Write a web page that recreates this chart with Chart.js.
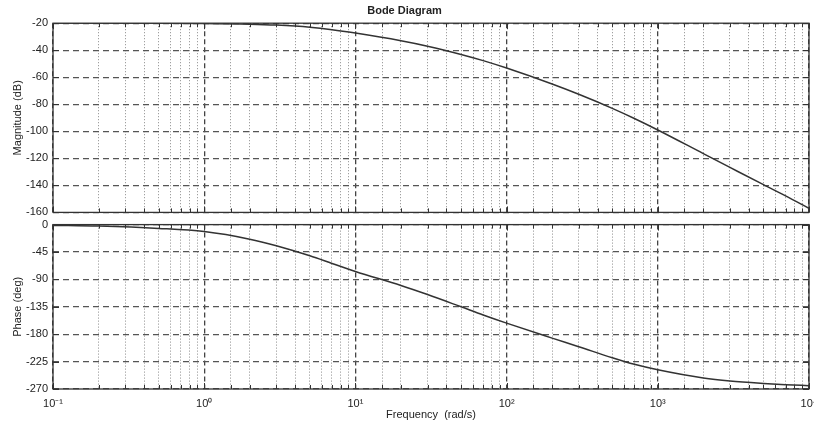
<!DOCTYPE html>
<html>
<head>
<meta charset="utf-8">
<script src="https://cdn.jsdelivr.net/npm/chart.js@4"></script>
<style>
  html, body { margin: 0; padding: 0; background: #fff; overflow: hidden; }
  body { width: 814px; height: 428px; position: relative; }
  canvas { position: absolute; left: 0; }
  #magChart { top: 0; }
  #phaseChart { top: 213px; }
</style>
</head>
<body>
<canvas id="magChart" width="830" height="224"></canvas>
<canvas id="phaseChart" width="830" height="215"></canvas>
<script>
// (rad/s, dB, deg)
const freq = [0.1, 0.2, 0.5, 1, 2, 3, 5, 7, 10, 20, 30, 50, 70, 100, 200, 300, 500, 700, 1000, 2000, 3000, 5000, 7000, 10000];
const magnitude = [-20.0, -20.0, -20.1, -20.2, -20.7, -21.4, -23.0, -24.8, -27.3, -33.0, -37.0, -43.1, -47.7, -53.2, -65.0, -72.6, -83.0, -90.5, -99.0, -116.5, -126.7, -139.5, -147.8, -157.0];
const phase = [-1.3, -2.5, -6.3, -11.5, -24.0, -34.8, -51.3, -63.8, -77.0, -100.0, -114.9, -135.0, -148.4, -161.8, -186.4, -200.5, -218.7, -229.5, -238.5, -252.0, -257.0, -261.0, -263.0, -264.5];

const magTicks = [-20, -40, -60, -80, -100, -120, -140, -160];
const phaseTicks = [0, -45, -90, -135, -180, -225, -270];
const freqLabels = ['10⁻¹', '10⁰', '10¹', '10²', '10³', '10⁴'];

const FONT = 'Liberation Sans, Arial, sans-serif';
Chart.defaults.font.family = FONT;
Chart.defaults.font.size = 11;
Chart.defaults.color = '#222';

const isDecade = v => Math.abs(Math.log10(v) - Math.round(Math.log10(v))) < 1e-9;

const boxPlugin = {
    id: 'box',
    afterDraw(chart) {
        const {ctx, chartArea: a, scales} = chart;
        ctx.save();
        ctx.strokeStyle = '#333';
        ctx.lineWidth = 1;
        ctx.setLineDash([]);
        ctx.beginPath();
        scales.x.ticks.forEach(t => {
            const px = Math.round(scales.x.getPixelForValue(t.value)) + 0.5;
            const len = isDecade(t.value) ? 6 : 4;
            ctx.moveTo(px, a.top); ctx.lineTo(px, a.top + len);
            ctx.moveTo(px, a.bottom); ctx.lineTo(px, a.bottom - len);
        });
        scales.y.ticks.forEach(t => {
            const py = Math.round(scales.y.getPixelForValue(t.value)) + 0.5;
            ctx.moveTo(a.left, py); ctx.lineTo(a.left + 6, py);
            ctx.moveTo(a.right, py); ctx.lineTo(a.right - 6, py);
        });
        ctx.stroke();
        ctx.lineWidth = 1.3;
        ctx.strokeRect(a.left, a.top, a.right - a.left, a.bottom - a.top);
        ctx.restore();
    }
};

function xAxis(showLabels) {
    return {
        type: 'logarithmic',
        min: 0.1,
        max: 10000,
        afterFit: s => { s.height = showLabels ? 39 : 8; },
        grid: {
            drawTicks: false,
            color: c => isDecade(c.tick.value) ? '#444' : '#8a8a8a',
            lineWidth: c => isDecade(c.tick.value) ? 1.3 : 1
        },
        border: {
            display: false,
            dash: c => (c.tick && isDecade(c.tick.value)) ? [5, 3] : [1, 2]
        },
        ticks: {
            display: showLabels,
            autoSkip: false,
            maxRotation: 0,
            padding: 8,
            callback: v => isDecade(v) ? freqLabels[Math.round(Math.log10(v)) + 1] : ''
        },
        title: {
            display: showLabels,
            text: 'Frequency  (rad/s)',
            padding: {top: 0, bottom: 6}
        }
    };
}

function yAxis(ticks, title) {
    return {
        min: Math.min(...ticks),
        max: Math.max(...ticks),
        afterFit: s => { s.width = 53; },
        afterBuildTicks: s => { s.ticks = ticks.map(v => ({value: v})); },
        grid: { drawTicks: false, color: '#555', lineWidth: 1.2 },
        border: { display: false, dash: [6, 4] },
        ticks: { padding: 5 },
        title: { display: true, text: title, padding: {top: 11, bottom: 0} }
    };
}

function lineData(values) {
    return {
        datasets: [{
            data: freq.map((f, i) => ({x: f, y: values[i]})),
            borderColor: '#333',
            borderWidth: 1.5,
            pointRadius: 0,
            cubicInterpolationMode: 'monotone'
        }]
    };
}

new Chart(document.getElementById('magChart'), {
    type: 'line',
    data: lineData(magnitude),
    options: {
        responsive: false,
        animation: false,
        layout: { padding: {left: 0, right: 21, top: 0, bottom: 0} },
        plugins: {
            legend: { display: false },
            tooltip: { enabled: false },
            title: {
                display: true,
                text: 'Bode Diagram',
                font: { size: 11, weight: 'bold' },
                padding: {top: 4, bottom: 6}
            }
        },
        scales: { x: xAxis(false), y: yAxis(magTicks, 'Magnitude (dB)') }
    },
    plugins: [boxPlugin]
});

new Chart(document.getElementById('phaseChart'), {
    type: 'line',
    data: lineData(phase),
    options: {
        responsive: false,
        animation: false,
        layout: { padding: {left: 0, right: 21, top: 9, bottom: 0} },
        plugins: { legend: { display: false }, tooltip: { enabled: false } },
        scales: { x: xAxis(true), y: yAxis(phaseTicks, 'Phase (deg)') }
    },
    plugins: [boxPlugin]
});
</script>
</body>
</html>
